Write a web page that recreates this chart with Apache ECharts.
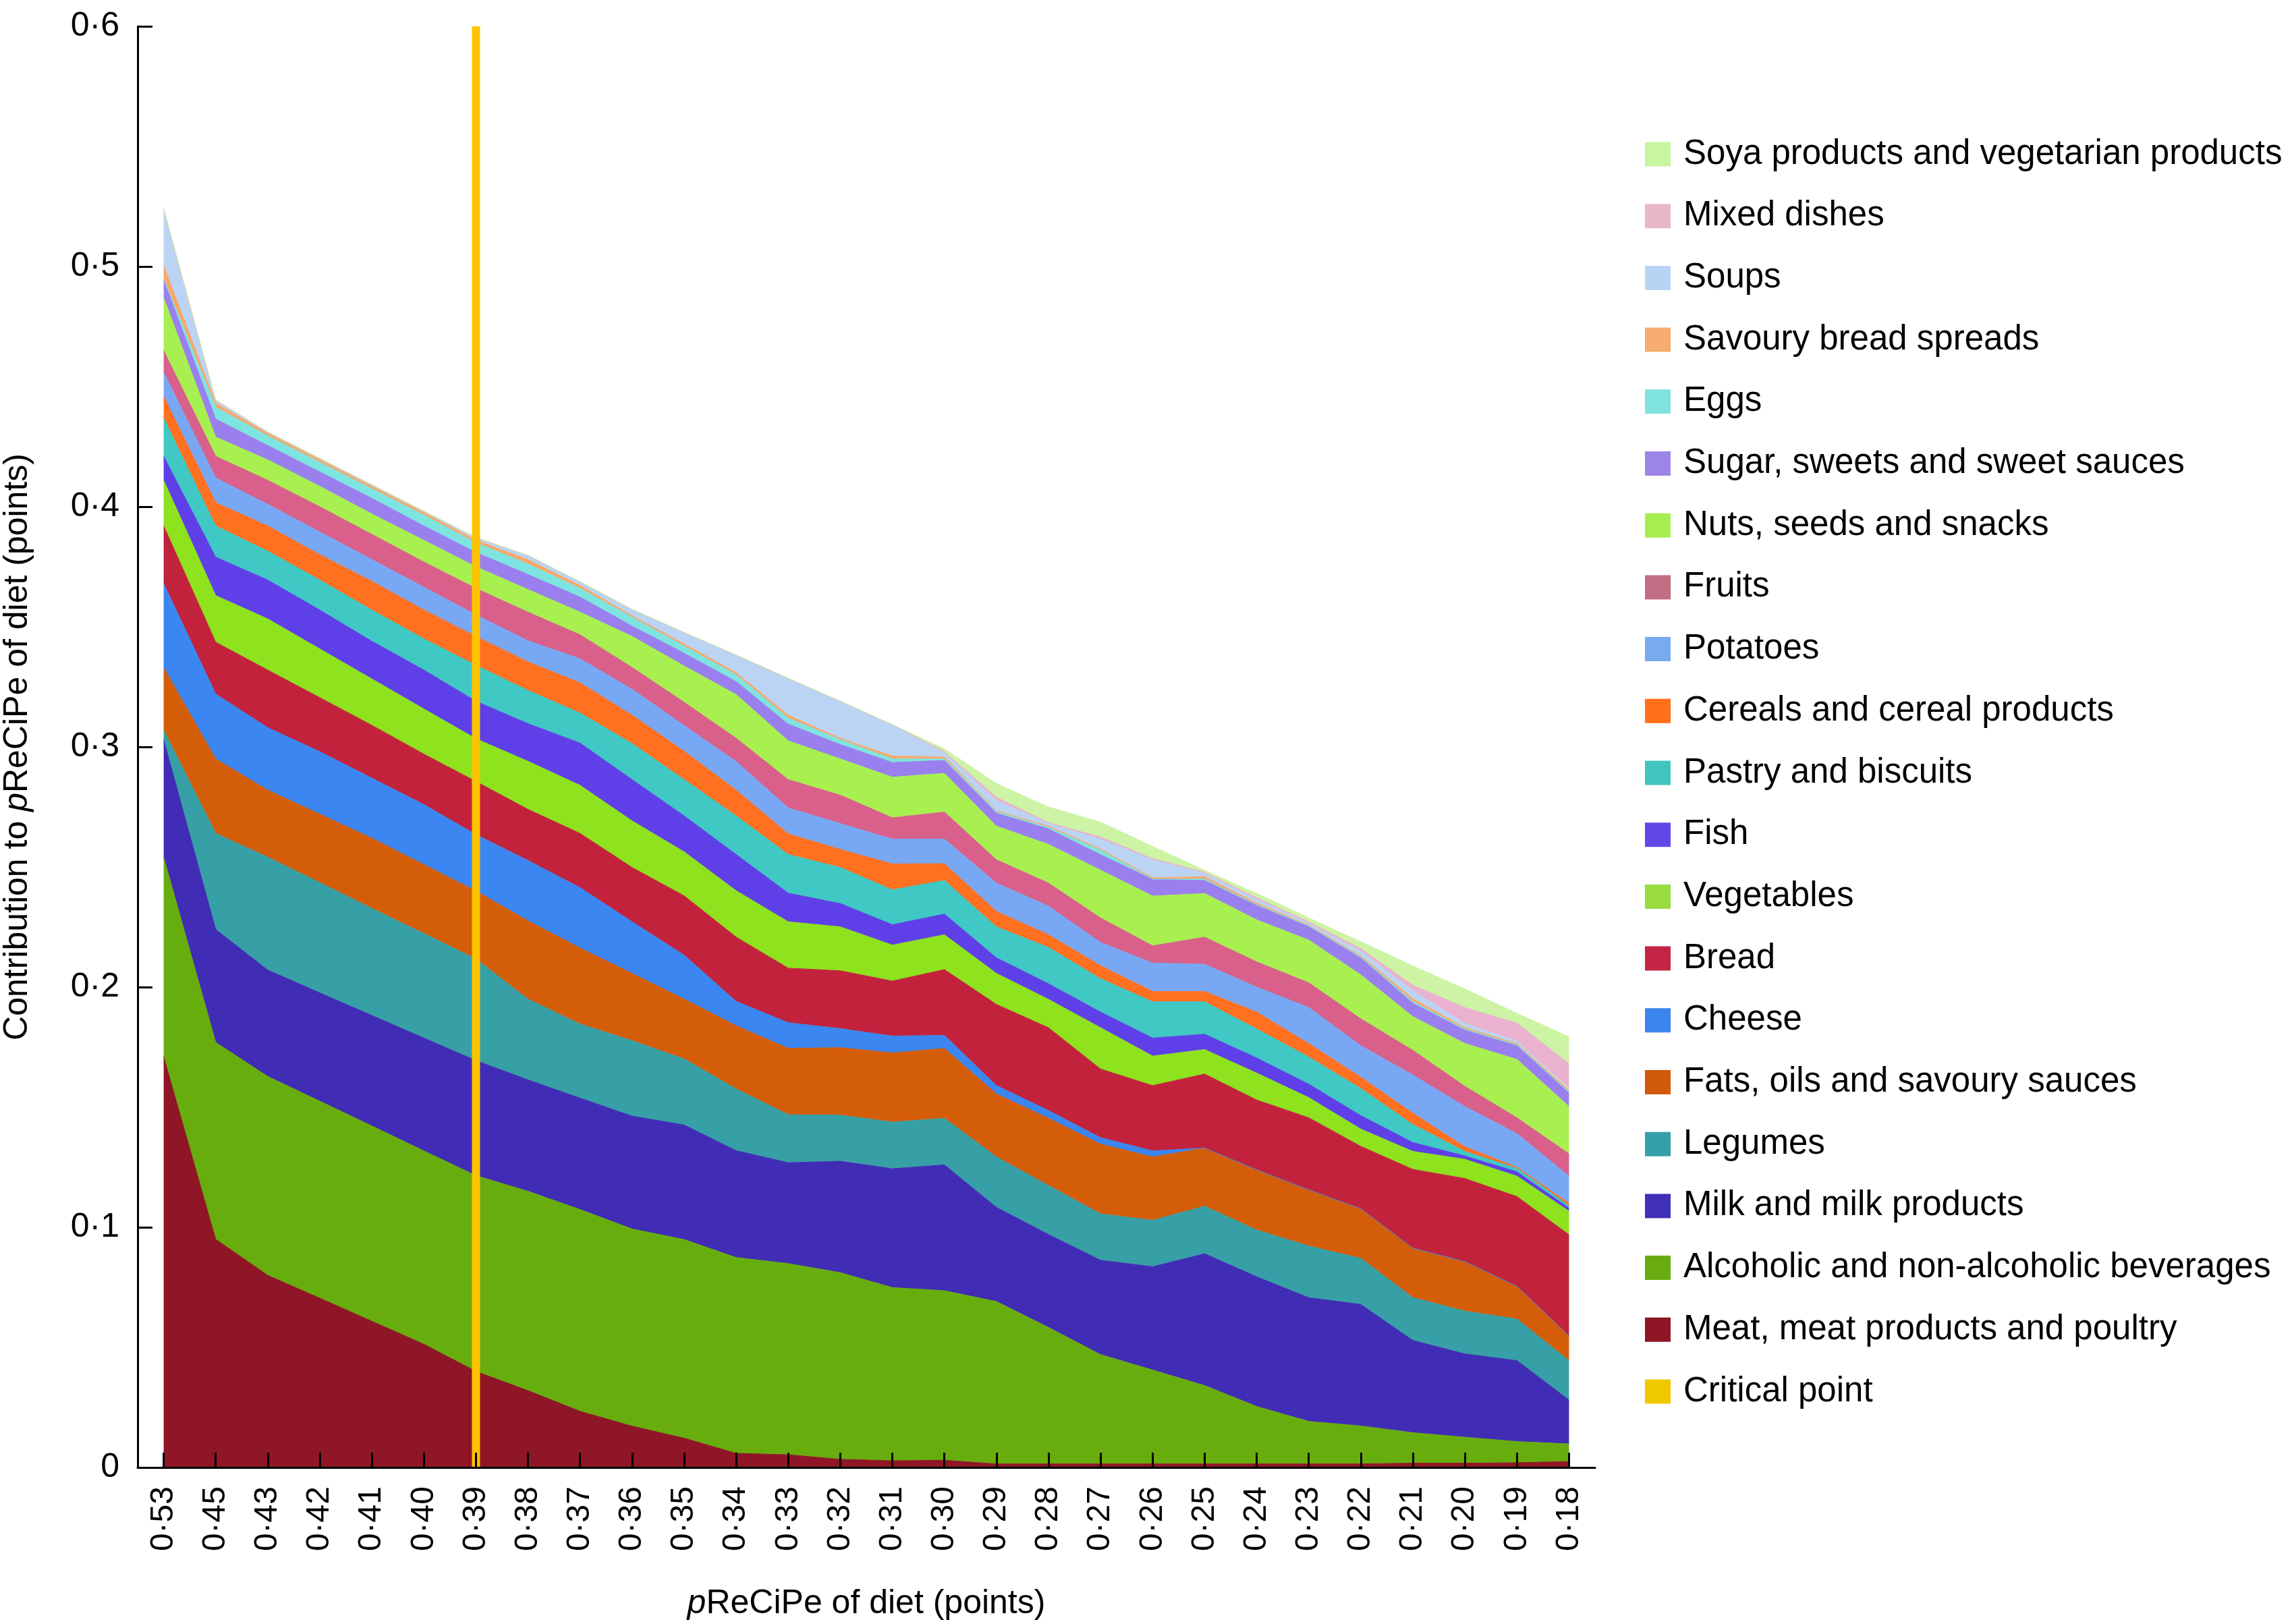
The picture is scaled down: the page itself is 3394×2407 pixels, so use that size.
<!DOCTYPE html>
<html>
<head>
<meta charset="utf-8">
<script src="https://cdn.jsdelivr.net/npm/echarts@6.0.0/dist/echarts.min.js"></script>
<style>
html,body{margin:0;padding:0;background:#ffffff;}
#chart{width:3394px;height:2407px;}
</style>
</head>
<body>
<div id="chart"></div>
<script>
// x categories: pReCiPe of diet (points)
const categories = ['0·53','0·45','0·43','0·42','0·41','0·40','0·39','0·38','0·37','0·36','0·35','0·34','0·33','0·32','0·31','0·30','0·29','0·28','0·27','0·26','0·25','0·24','0·23','0·22','0·21','0·20','0·19','0·18'];
const criticalPoint = '0·39';
const yTicks = [0, 0.1, 0.2, 0.3, 0.4, 0.5, 0.6];

// contributions to pReCiPe per food group (stack order: bottom -> top)
const meat       = [0.171,0.095,0.080,0.0705,0.0609,0.0513,0.040,0.032,0.0234,0.0172,0.0122,0.0059,0.0053,0.0034,0.0028,0.003,0.0015,0.0015,0.0015,0.0015,0.0015,0.0015,0.0015,0.0015,0.0018,0.0018,0.002,0.0025];
const beverages  = [0.083,0.082,0.0828,0.082,0.0813,0.0805,0.0815,0.083,0.084,0.0821,0.0827,0.0815,0.0796,0.0777,0.0721,0.0706,0.0676,0.0568,0.0455,0.0391,0.0326,0.0239,0.0177,0.0158,0.0127,0.0108,0.0088,0.0073];
const milk       = [0.049,0.047,0.0443,0.0451,0.046,0.047,0.0479,0.0464,0.0464,0.047,0.0477,0.0445,0.042,0.0464,0.0495,0.0524,0.0392,0.0387,0.0393,0.043,0.0549,0.054,0.0515,0.0506,0.0384,0.0347,0.0337,0.0183];
const legumes    = [0.004,0.040,0.047,0.0459,0.0446,0.0435,0.0423,0.0336,0.0308,0.0314,0.0275,0.0257,0.020,0.0192,0.0194,0.0194,0.021,0.0204,0.0193,0.0193,0.0198,0.0195,0.0215,0.0192,0.0178,0.0178,0.0173,0.0164];
const fats       = [0.026,0.031,0.0279,0.0285,0.0292,0.0287,0.0283,0.0326,0.0317,0.028,0.0249,0.0263,0.0276,0.0281,0.0288,0.0291,0.0262,0.028,0.029,0.0264,0.0242,0.025,0.0234,0.0206,0.0206,0.0206,0.0136,0.0103];
const cheese     = [0.035,0.027,0.026,0.026,0.025,0.025,0.0235,0.0251,0.0251,0.0215,0.0183,0.0101,0.0107,0.0079,0.007,0.0054,0.0035,0.0032,0.0027,0.0025,0,0,0,0,0,0,0,0];
const bread      = [0.024,0.0216,0.024,0.0225,0.022,0.021,0.0221,0.0213,0.0226,0.0226,0.0247,0.0268,0.0227,0.0241,0.0229,0.0274,0.0338,0.0345,0.0286,0.0272,0.0308,0.0291,0.030,0.026,0.0328,0.0346,0.0374,0.0421];
const vegetables = [0.019,0.0194,0.0213,0.0203,0.0193,0.0188,0.0178,0.020,0.020,0.0194,0.0183,0.0193,0.0193,0.0183,0.015,0.0145,0.0129,0.0118,0.0172,0.0123,0.0102,0.0112,0.0084,0.0072,0.0075,0.008,0.0085,0.0098];
const fish       = [0.010,0.016,0.0162,0.0162,0.0157,0.0162,0.0156,0.0157,0.0176,0.0172,0.015,0.0151,0.0119,0.0097,0.0085,0.0086,0.0065,0.0065,0.0065,0.0075,0.0064,0.0063,0.0056,0.0056,0.0037,0.0014,0.0018,0.0013];
const pastry     = [0.016,0.013,0.012,0.0125,0.013,0.013,0.015,0.0138,0.0125,0.015,0.0151,0.0161,0.0161,0.015,0.0145,0.014,0.0129,0.0151,0.0139,0.0151,0.0135,0.0121,0.0113,0.0113,0.0075,0.0019,0.0014,0.001];
const cereals    = [0.009,0.0097,0.0105,0.0105,0.012,0.012,0.012,0.0119,0.0126,0.0118,0.0118,0.0107,0.0086,0.0075,0.0108,0.007,0.0064,0.0053,0.0054,0.0043,0.0043,0.007,0.0056,0.0047,0.0047,0.0019,0.0005,0.001];
const potatoes   = [0.010,0.0103,0.009,0.0095,0.009,0.0095,0.009,0.0088,0.010,0.0108,0.0107,0.0119,0.0108,0.0108,0.0103,0.0102,0.0118,0.0119,0.0097,0.0118,0.0113,0.0104,0.015,0.0131,0.0159,0.0168,0.014,0.0113];
const fruits     = [0.009,0.009,0.010,0.0105,0.0105,0.0105,0.011,0.0119,0.010,0.0091,0.0097,0.0097,0.0118,0.0118,0.0089,0.0113,0.0097,0.0096,0.0102,0.0072,0.0113,0.0105,0.0103,0.0112,0.0103,0.0084,0.0066,0.0093];
const nuts       = [0.022,0.008,0.0085,0.0085,0.0085,0.009,0.009,0.0094,0.0094,0.0129,0.0151,0.0182,0.0161,0.0151,0.0169,0.0161,0.014,0.0161,0.0199,0.0207,0.0182,0.0175,0.0178,0.0183,0.014,0.0178,0.0243,0.0197];
const sugar      = [0.0074,0.0075,0.006,0.006,0.0065,0.006,0.006,0.0063,0.0063,0.0043,0.0053,0.0054,0.007,0.006,0.0061,0.0054,0.0054,0.0065,0.0064,0.007,0.0054,0.006,0.0056,0.007,0.0056,0.0056,0.0057,0.0056];
const eggs       = [0.0006,0.005,0.004,0.004,0.004,0.0045,0.004,0.0044,0.0036,0.0037,0.003,0.0028,0.0025,0.002,0.0015,0.0006,0.0006,0.0006,0.0019,0.0001,0.0006,0.0003,0.0003,0.0004,0.0007,0.0004,0.0004,0.0006];
const savoury    = [0.0055,0.0015,0.001,0.001,0.001,0.001,0.001,0.0018,0.0012,0.0006,0.0009,0.0009,0.0012,0.0006,0.0012,0.0008,0.0004,0.0005,0.0005,0.0005,0.001,0.0007,0.0003,0.0005,0.0012,0.0006,0.0005,0.0008];
const soups      = [0.023,0.0005,0.0005,0.0005,0.0005,0.0005,0.001,0.0017,0.0015,0.0026,0.0047,0.0073,0.0153,0.0154,0.013,0.0017,0.0043,0.0011,0.0041,0.0075,0.0014,0.0015,0.0007,0.002,0.0033,0.0018,0.001,0.0005];
const mixed      = [0.0003,0.0005,0,0,0,0,0,0,0,0,0,0,0,0,0,0.0005,0.0013,0.0004,0.0009,0.0005,0.0004,0.0007,0.0007,0.001,0.0023,0.0066,0.0075,0.0103];
const soya       = [0.0004,0.0005,0.0002,0.0002,0.0002,0.0002,0.0002,0.0001,0.0001,0.0001,0.0001,0.0001,0.0001,0.0001,0.0001,0.0012,0.0057,0.0065,0.0062,0.0051,0.0008,0.0018,0.0016,0.0029,0.008,0.0077,0.0041,0.0112];

const layers = [
  {name:'Meat, meat products and poultry', data:meat, color:'#8f1626', key:'#8e1525'},
  {name:'Alcoholic and non-alcoholic beverages', data:beverages, color:'#68ad0e', key:'#68ac10'},
  {name:'Milk and milk products', data:milk, color:'#412cb5', key:'#4030b8'},
  {name:'Legumes', data:legumes, color:'#37a0a6', key:'#35a0a8'},
  {name:'Fats, oils and savoury sauces', data:fats, color:'#d45d0a', key:'#d05a08'},
  {name:'Cheese', data:cheese, color:'#3b86f0', key:'#3c84ee'},
  {name:'Bread', data:bread, color:'#c3223c', key:'#c42444'},
  {name:'Vegetables', data:vegetables, color:'#8ee21e', key:'#98dc40'},
  {name:'Fish', data:fish, color:'#5f40e8', key:'#6048e8'},
  {name:'Pastry and biscuits', data:pastry, color:'#40c8c4', key:'#40c4c0'},
  {name:'Cereals and cereal products', data:cereals, color:'#ff7020', key:'#ff7018'},
  {name:'Potatoes', data:potatoes, color:'#78a8f4', key:'#78aaf0'},
  {name:'Fruits', data:fruits, color:'#d9608a', key:'#c26d84'},
  {name:'Nuts, seeds and snacks', data:nuts, color:'#a8f050', key:'#a6ee50'},
  {name:'Sugar, sweets and sweet sauces', data:sugar, color:'#9a80ee', key:'#9b85e6'},
  {name:'Eggs', data:eggs, color:'#7ee4e0', key:'#80e2dc'},
  {name:'Savoury bread spreads', data:savoury, color:'#f8a868', key:'#f5ac6e'},
  {name:'Soups', data:soups, color:'#bcd4f4', key:'#b8d4f5'},
  {name:'Mixed dishes', data:mixed, color:'#eab2cf', key:'#e6b8c8'},
  {name:'Soya products and vegetarian products', data:soya, color:'#ccf4a4', key:'#c8f5a0'}
];

const FONT = '"Liberation Sans", Arial, Helvetica, sans-serif';

const series = layers.map(l => ({
  name: l.name,
  type: 'line',
  stack: 'total',
  data: l.data,
  symbol: 'none',
  showSymbol: false,
  lineStyle: {width: 1, color: l.color},
  itemStyle: {color: l.color},
  areaStyle: {color: l.color, opacity: 1},
  emphasis: {disabled: true},
  z: 2
}));

const critIdx = categories.indexOf(criticalPoint);
series.push({
  name: 'Critical point',
  type: 'line',
  data: [[critIdx, yTicks[0]], [critIdx, yTicks[yTicks.length - 1]]],
  symbol: 'none',
  showSymbol: false,
  lineStyle: {width: 12, color: '#fdc300'},
  itemStyle: {color: '#f2c800'},
  emphasis: {disabled: true},
  z: 4
});

const legendOrder = layers.slice().reverse().map(l => ({name: l.name, itemStyle: {color: l.key}}))
  .concat([{name: 'Critical point', itemStyle: {color: '#f0c800'}}]);

const nameStyle = {
  fontFamily: FONT, fontSize: 50, color: '#000',
  rich: {i: {fontFamily: FONT, fontSize: 50, color: '#000', fontStyle: 'italic'}}
};

const chart = echarts.init(document.getElementById('chart'), null, {renderer: 'canvas'});
chart.setOption({
  animation: false,
  backgroundColor: '#ffffff',
  grid: {left: 204, right: 1030, top: 39, bottom: 232, containLabel: false, outerBoundsMode: 'none'},
  legend: {
    orient: 'vertical',
    left: 2433,
    top: 198,
    icon: 'rect',
    itemWidth: 38,
    itemHeight: 36,
    itemGap: 40.7,
    selectedMode: false,
    data: legendOrder,
    textStyle: {fontFamily: FONT, fontSize: 51, color: '#000', padding: [0, 0, 0, 14]}
  },
  xAxis: {
    type: 'category',
    data: categories,
    boundaryGap: true,
    z: 5,
    axisLine: {show: true, lineStyle: {color: '#000', width: 3}},
    axisTick: {show: true, inside: true, alignWithLabel: true, length: 22, lineStyle: {color: '#000', width: 3}},
    axisLabel: {rotate: 90, interval: 0, fontFamily: FONT, fontSize: 48, color: '#000', margin: 28},
    splitLine: {show: false},
    name: '{i|p}ReCiPe of diet (points)',
    nameLocation: 'middle',
    nameGap: 177,
    nameTextStyle: nameStyle
  },
  yAxis: {
    type: 'value',
    min: yTicks[0],
    max: yTicks[yTicks.length - 1],
    interval: 0.1,
    z: 5,
    axisLine: {show: true, lineStyle: {color: '#000', width: 3}},
    axisTick: {show: true, inside: true, length: 22, lineStyle: {color: '#000', width: 3}},
    splitLine: {show: false},
    axisLabel: {
      fontFamily: FONT, fontSize: 50, color: '#000', margin: 27,
      formatter: v => (v === 0 ? '0' : v.toFixed(1).replace('.', '·'))
    },
    name: 'Contribution to {i|p}ReCiPe of diet (points)',
    nameLocation: 'middle',
    nameGap: 153,
    nameTextStyle: nameStyle
  },
  series: series
});
</script>
</body>
</html>
